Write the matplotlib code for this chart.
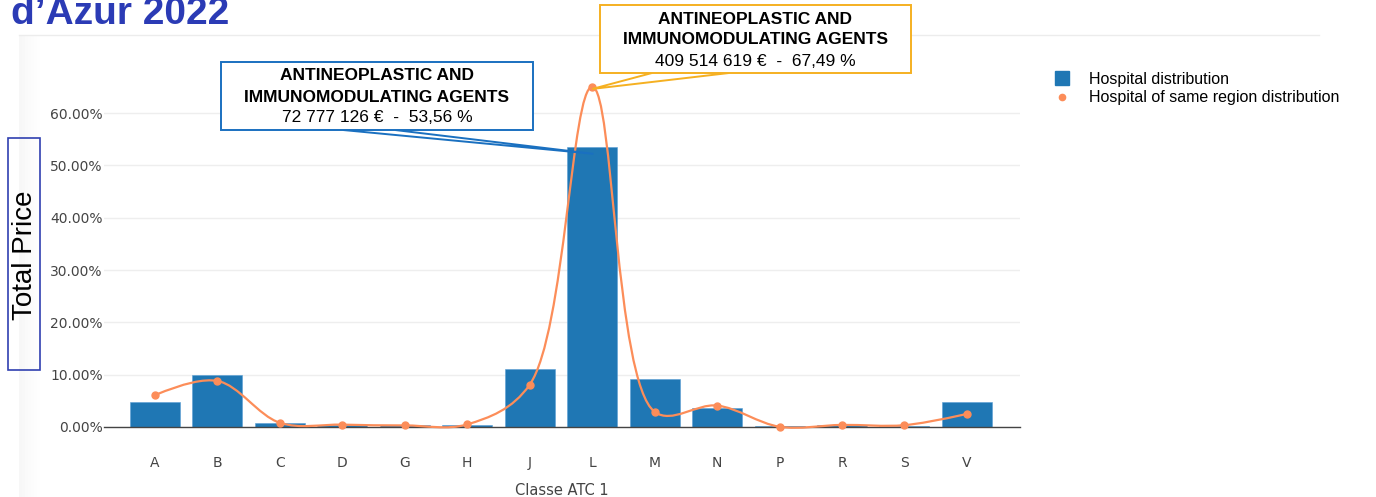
import numpy as np
import matplotlib
matplotlib.use("Agg")
import matplotlib.pyplot as plt
from matplotlib.path import Path
from matplotlib.patches import PathPatch, Rectangle, Polygon
from matplotlib.lines import Line2D

categories = ["A", "B", "C", "D", "G", "H", "J", "L", "M", "N", "P", "R", "S", "V"]
hospital = [4.8, 9.9, 0.75, 0.4, 0.3, 0.4, 11.1, 53.56, 9.2, 3.6, 0.15, 0.3, 0.2, 4.8]
region = [6.1, 8.8, 0.8, 0.45, 0.3, 0.5, 8.1, 65.0, 2.9, 4.1, 0.05, 0.4, 0.35, 2.5]
yticks = [0, 10, 20, 30, 40, 50, 60]
series_names = ["Hospital distribution", "Hospital of same region distribution"]
ann_title = "ANTINEOPLASTIC AND\nIMMUNOMODULATING AGENTS"
ann_hosp = "72 777 126 €  -  53,56 %"
ann_region = "409 514 619 €  -  67,49 %"

W, H = 1376, 497
fig = plt.figure(figsize=(W / 100, H / 100), dpi=100)
fig.patch.set_facecolor("white")

def fx(px):
    return px / W

def fy(py):
    return 1 - py / H

BLUE = "#1f77b4"
ORANGE = "#fc8d59"

# decorative slide elements
fig.add_artist(Line2D([fx(19), fx(1319)], [fy(35), fy(35)], color="#ececec", lw=1))
for i, a in enumerate(np.linspace(0.06, 0.0, 8)):
    fig.add_artist(Rectangle((fx(19 + i * 3), 0), fx(3), fy(35), color="black",
                             alpha=a * 0.5, lw=0))

fig.text(fx(11), fy(24), "d\u2019Azur 2022", fontsize=28, fontweight="bold",
         color="#2b3bb5", family="Liberation Sans", ha="left", va="baseline")

left, right, bottom = 104, 1020, 427
top = bottom - 70 * 5.233
ax = fig.add_axes([fx(left), fy(bottom), fx(right - left), (bottom - top) / H])
x = np.arange(len(categories))
ax.bar(x, hospital, width=0.8, color=BLUE, edgecolor="#5a9fd4", linewidth=0.4, zorder=2)
ax.set_xlim(-0.817, 13.85)
ax.set_ylim(0, 70)
ax.set_yticks(yticks)
ax.set_yticklabels([f"{v:.2f}%" for v in yticks])
ax.set_xticks(x)
ax.set_xticklabels(categories)
for s in ["top", "right", "left"]:
    ax.spines[s].set_visible(False)
ax.spines["bottom"].set_color("#444444")
ax.spines["bottom"].set_linewidth(1)
ax.grid(axis="y", color="#eeeeee", lw=1, zorder=0)
ax.set_axisbelow(True)
ax.tick_params(axis="both", length=0, colors="#444444", labelsize=10)
ax.tick_params(axis="x", pad=21)
ax.tick_params(axis="y", pad=1)
for lab in ax.get_xticklabels() + ax.get_yticklabels():
    lab.set_family("DejaVu Sans")
ax.set_xlabel("Classe ATC 1", fontsize=10.5, color="#444444", family="DejaVu Sans",
              labelpad=9)

# plotly-like spline through the points (computed in pixel space)
pts = ax.transData.transform(np.column_stack([x, region]))

def tangent(p0, p1, p2, s=1.0):
    d1 = p0 - p1
    d2 = p2 - p1
    d1a = np.hypot(*d1) ** 0.5
    d2a = np.hypot(*d2) ** 0.5
    num = (d2a * d2a * d1 - d1a * d1a * d2) * s
    den1 = 3 * d2a * (d1a + d2a)
    den2 = 3 * d1a * (d1a + d2a)
    return p1 + num / den1, p1 - num / den2

tans = [tangent(pts[i - 1], pts[i], pts[i + 1]) for i in range(1, len(pts) - 1)]
verts = [pts[0], tans[0][0], pts[1]]
codes = [Path.MOVETO, Path.CURVE3, Path.CURVE3]
for i in range(2, len(pts) - 1):
    verts += [tans[i - 2][1], tans[i - 1][0], pts[i]]
    codes += [Path.CURVE4] * 3
verts += [tans[-1][1], pts[-1]]
codes += [Path.CURVE3] * 2
verts = ax.transData.inverted().transform(np.array(verts))
ax.add_patch(PathPatch(Path(verts, codes), fill=False, edgecolor=ORANGE, lw=1.6,
                       zorder=3, clip_on=False))
ax.plot(x, region, "o", color=ORANGE, markersize=5, zorder=4, clip_on=False)

# legend
handles = [Line2D([], [], marker="s", color=BLUE, ls="none", markersize=9.5),
           Line2D([], [], marker="o", color=ORANGE, ls="none", markersize=4.5)]
fig.legend(handles, series_names, loc="upper left", bbox_to_anchor=(fx(1043), fy(64)),
           frameon=False, prop={"family": "Liberation Sans", "size": 11.5},
           handletextpad=1.0, labelspacing=0.2, handlelength=1.4, borderpad=0)

# y-axis title in a box
fig.add_artist(Rectangle((fx(8), fy(370)), fx(32), (370 - 138) / H, fill=False,
                         edgecolor="#3040b0", lw=1.2))
fig.text(fx(25), fy(255), "Total Price", rotation=90, fontsize=20,
         family="Liberation Sans", ha="center", va="center", color="black")

# callouts
def callout(box, color, lines_y, value, target, base_xs):
    x0, y0, x1, y1 = box
    tx, ty = fig.transFigure.inverted().transform(ax.transData.transform(target))
    fig.add_artist(Polygon([(fx(base_xs[0]), fy(y1)), (tx, ty), (fx(base_xs[1]), fy(y1))],
                           closed=False, fill=False, edgecolor=color, lw=1.4, zorder=5))
    fig.add_artist(Rectangle((fx(x0), fy(y1)), fx(x1 - x0), (y1 - y0) / H,
                             facecolor="white", edgecolor=color, lw=1.4, zorder=6))
    cx = fx((x0 + x1) / 2)
    t1, t2 = ann_title.split("\n")
    fig.text(cx, fy(lines_y[0]), t1, fontsize=12.5, fontweight="bold", family="Liberation Sans",
             ha="center", va="center", zorder=7)
    fig.text(cx, fy(lines_y[1]), t2, fontsize=12.5, fontweight="bold", family="Liberation Sans",
             ha="center", va="center", zorder=7)
    fig.text(cx, fy(lines_y[2]), value, fontsize=12.5, family="Liberation Sans",
             ha="center", va="center", zorder=7)

callout((221, 62, 533, 130), "#1a70c0", (76, 97, 118), ann_hosp, (7.02, 52.2), (343, 395))
callout((600, 5, 911, 73), "#f5b021", (19, 40, 61), ann_region, (7.0, 64.6), (652, 729))

fig.savefig("out.png", dpi=100, facecolor="white")
